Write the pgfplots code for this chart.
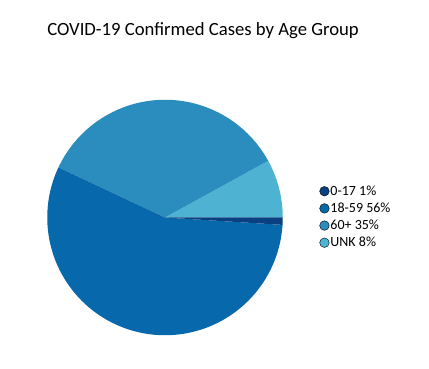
\documentclass[border=0pt]{standalone}
\usepackage{pgfplots}
\pgfplotsset{compat=1.18}
\usepackage{fontspec}
\setmainfont{Carlito}
\definecolor{cA}{HTML}{084081}
\definecolor{cB}{HTML}{0868AC}
\definecolor{cC}{HTML}{2B8CBE}
\definecolor{cD}{HTML}{4EB3D3}
\begin{document}
\begin{tikzpicture}[x=1bp,y=1bp]
\path[use as bounding box] (0,0) rectangle (429,369);
\node[font=\fontsize{18.67bp}{22bp}\selectfont, anchor=base] at (203,333.5) {COVID-19 Confirmed Cases by Age Group};
\begin{axis}[
  at={(165bp,151.5bp)}, anchor=center,
  scale only axis, width=235.5bp, height=235.5bp,
  xmin=-1, xmax=1, ymin=-1, ymax=1,
  hide axis, clip=false,
  legend style={at={(1.155,0.64)}, anchor=north west, draw=none, fill=none,
    font=\fontsize{14bp}{16bp}\selectfont, row sep=4.1bp,
    inner sep=0pt, nodes={inner sep=1bp}},
  legend cell align=left,
  legend image code/.code={\fill[#1] (3bp,0) circle[radius=4.8bp];},
]
% percentages: UNK 8, 60+ 35, 18-59 56, 0-17 1 (counterclockwise from east)
\fill[cD] (0,0) -- plot[domain=0:{8*3.6}, samples=30, smooth] ({cos(\x)},{sin(\x)}) -- cycle;
\fill[cC] (0,0) -- plot[domain={8*3.6}:{(8+35)*3.6}, samples=60, smooth] ({cos(\x)},{sin(\x)}) -- cycle;
\fill[cB] (0,0) -- plot[domain={(8+35)*3.6}:{(8+35+56)*3.6}, samples=90, smooth] ({cos(\x)},{sin(\x)}) -- cycle;
\fill[cA] (0,0) -- plot[domain={(8+35+56)*3.6}:{(8+35+56+1)*3.6}, samples=5, smooth] ({cos(\x)},{sin(\x)}) -- cycle;
\addlegendimage{fill=cA}
\addlegendentry{0-17 1\%}
\addlegendimage{fill=cB}
\addlegendentry{18-59 56\%}
\addlegendimage{fill=cC}
\addlegendentry{60+ 35\%}
\addlegendimage{fill=cD}
\addlegendentry{UNK 8\%}
\end{axis}
\end{tikzpicture}
\end{document}
